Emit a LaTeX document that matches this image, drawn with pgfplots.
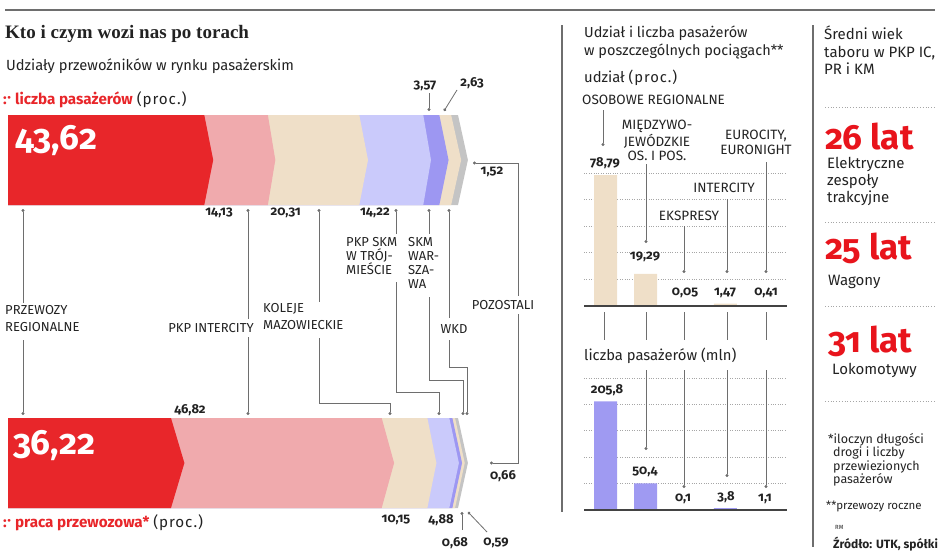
\documentclass[border=0pt]{standalone}
\usepackage{pgfplots}
\pgfplotsset{compat=1.18}
\usetikzlibrary{arrows.meta}
\usepackage{fontspec}
\setmainfont{Fira Sans}[Numbers=OldStyle]
\newfontfamily\titlefont{Liberation Serif}
\definecolor{cred}{HTML}{E8262A}
\definecolor{cpink}{HTML}{F0AAAD}
\definecolor{cbeige}{HTML}{EFDFC8}
\definecolor{clav}{HTML}{CACAFB}
\definecolor{cperi}{HTML}{9D97F2}
\definecolor{cgray}{HTML}{C4C4C4}
\definecolor{ctext}{HTML}{222222}
\definecolor{cline}{HTML}{6E6E6E}
\definecolor{cbar}{HTML}{9F9AF2}
\definecolor{cbig}{HTML}{E8141C}
\newcommand{\fs}[2]{\fontsize{#1bp}{#2bp}\selectfont}
\newcommand{\mk}{{\color{cred}\bfseries :\kern0.6bp\raisebox{0.3ex}{·}}}
\newcommand{\proc}{{\addfontfeature{LetterSpace=6}(proc.)}}
\begin{document}
\begin{tikzpicture}

% ---------- left: chevron bars ----------
\begin{axis}[at={(8bp,-115bp)}, anchor=north west, scale only axis, width=450bp, height=393bp,
  xmin=0, xmax=100, ymin=115, ymax=508, y dir=reverse, axis lines=none, clip=false]
% liczba pasazerow: 43.62, 14.13, 20.31, 14.22, 3.57, 2.63, 1.52 (cumulative ends)
\addplot[fill=cgray, draw=none]  coordinates {(0,115) (100,115) (102.2,160) (100,205) (0,205)} --cycle;
\addplot[fill=cbeige, draw=none] coordinates {(0,115) (98.48,115) (100.7,160) (98.48,205) (0,205)} --cycle;
\addplot[fill=cperi, draw=none]  coordinates {(0,115) (95.85,115) (97.9,160) (95.85,205) (0,205)} --cycle;
\addplot[fill=clav, draw=none]   coordinates {(0,115) (92.28,115) (94.0,160) (92.28,205) (0,205)} --cycle;
\addplot[fill=cbeige, draw=none] coordinates {(0,115) (78.06,115) (80.0,160) (78.06,205) (0,205)} --cycle;
\addplot[fill=cpink, draw=none]  coordinates {(0,115) (57.75,115) (59.4,160) (57.75,205) (0,205)} --cycle;
\addplot[fill=cred, draw=none]   coordinates {(0,115) (43.62,115) (45.6,160) (43.62,205) (0,205)} --cycle;
% praca przewozowa: 36.22, 46.82, 10.15, 4.88, 0.68, 0.59, 0.66 (cumulative ends)
\addplot[fill=cgray, draw=none]  coordinates {(0,418) (100,418) (102.2,463) (100,508) (0,508)} --cycle;
\addplot[fill=cbeige, draw=none] coordinates {(0,418) (99.34,418) (101.5,463) (99.34,508) (0,508)} --cycle;
\addplot[fill=cperi, draw=none]  coordinates {(0,418) (98.75,418) (100.9,463) (98.75,508) (0,508)} --cycle;
\addplot[fill=clav, draw=none]   coordinates {(0,418) (98.07,418) (100.2,463) (98.07,508) (0,508)} --cycle;
\addplot[fill=cbeige, draw=none] coordinates {(0,418) (93.19,418) (95.2,463) (93.19,508) (0,508)} --cycle;
\addplot[fill=cpink, draw=none]  coordinates {(0,418) (83.04,418) (85.8,463) (83.04,508) (0,508)} --cycle;
\addplot[fill=cred, draw=none]   coordinates {(0,418) (36.22,418) (39.2,463) (36.22,508) (0,508)} --cycle;
\end{axis}

% ---------- middle charts ----------
\begin{axis}[at={(584bp,-306bp)}, anchor=south west, scale only axis, width=203bp, height=133bp,
  xmin=-0.54, xmax=4.54, ymin=0, ymax=80, ybar, bar width=23bp, bar shift=0pt,
  axis line style={draw=none}, xtick=\empty, ytick={16,32,48,64,80}, yticklabels={},
  major tick length=0pt, ymajorgrids, grid style={dotted, line width=0.8bp, gray!70}, clip=false]
\addplot[fill=cbeige, draw=none] coordinates {(0,78.79) (1,19.29) (2,0.05) (3,1.47) (4,0.41)};
\draw[line width=2.2bp, draw=ctext!85] (rel axis cs:0,0) -- (rel axis cs:1,0);
\end{axis}

\begin{axis}[at={(584bp,-510bp)}, anchor=south west, scale only axis, width=203bp, height=132bp,
  xmin=-0.54, xmax=4.54, ymin=0, ymax=250, ybar, bar width=23bp, bar shift=0pt,
  axis line style={draw=none}, xtick=\empty, ytick={50,100,150,200,250}, yticklabels={},
  major tick length=0pt, ymajorgrids, grid style={dotted, line width=0.8bp, gray!70}, clip=false]
\addplot[fill=cbar, draw=none] coordinates {(0,205.8) (1,50.4) (2,0.1) (3,3.8) (4,1.1)};
\draw[line width=2.2bp, draw=ctext!85] (rel axis cs:0,0) -- (rel axis cs:1,0);
\end{axis}

\begin{scope}[x=1bp, y=-1bp,
  every node/.style={text=ctext, inner sep=0pt},
  ld/.style={draw=cline, line width=0.8bp},
  dS/.style={ld, {Circle[length=3bp]}-},
  dE/.style={ld, -{Circle[length=3bp]}},
  lab/.style={font=\fs{13}{14}, align=left},
  mlab/.style={font=\fs{13.5}{14.5}, align=center},
  num/.style={font=\bfseries\fs{13}{14}},
  gdot/.style={draw=gray!70, dotted, line width=0.8bp}]
% ---------- header ----------
\draw[line width=2bp, draw=cline] (5,10) -- (935,10);
\node[anchor=base west, font=\titlefont\bfseries\fs{19}{20}] at (5,38) {Kto i czym wozi nas po torach};
\node[anchor=west, font=\fs{14.7}{16}] at (6,66) {Udziały przewoźników w rynku pasażerskim};
\node[anchor=west, font=\fs{15.2}{16}] at (3,100) {\mk\ {\color{cred}\bfseries liczba pasażerów} \proc};
\node[anchor=west, font=\fs{15.2}{16}] at (3,523) {\mk\ {\color{cred}\bfseries praca przewozowa*} \proc};

\node[anchor=west, font=\bfseries\fs{35}{36}, text=white] at (15,141) {43,62};
\node[anchor=west, font=\bfseries\fs{35}{36}, text=white] at (13,446) {36,22};

% value labels top bar
\node[num, anchor=east] at (233,213) {14,13};
\node[num, anchor=east] at (301,213) {20,31};
\node[num, anchor=east] at (390,213) {14,22};
\node[num] at (425,86) {3,57};
\node[num] at (472,83) {2,63};
\node[num] at (492,172) {1,52};
\draw[dE] (429,93) -- (429,111);
\draw[dE] (457,90) -- (444,111);
% value labels bottom bar
\node[num] at (190,410) {46,82};
\node[num] at (396,520) {10,15};
\node[num] at (441,520) {4,88};
\node[num] at (455,543) {0,68};
\node[num] at (496,543) {0,59};
\node[num] at (503,476) {0,66};
\draw[dS] (462,512) -- (462,530);
\draw[dS] (468,512) -- (487,532);

% leader lines
\draw[dS] (23,209) -- (23,303);   \draw[dE] (23,340) -- (23,415);
\draw[dS] (248,209) -- (248,319); \draw[dE] (248,337) -- (248,415);
\draw[dS] (319,209) -- (319,302); \draw[dE] (319,338) -- (319,403) -- (390,403) -- (390,415);
\draw[dS] (396,209) -- (396,234); \draw[dE] (396,282) -- (396,392) -- (439,392) -- (439,415);
\draw[dS] (429,209) -- (429,234); \draw[dE] (429,297) -- (429,380) -- (463,380) -- (463,415);
\draw[dS] (449,209) -- (449,318); \draw[dE] (449,340) -- (449,367) -- (467,367) -- (467,415);
\draw[dS] (473,163) -- (518,163) -- (518,296); \draw[dE] (518,314) -- (518,463) -- (490,463);

\node[lab, anchor=north west, font=\fs{13}{17}] at (5,305) {PRZEWOZY\\REGIONALNE};
\node[lab] at (211,328) {PKP INTERCITY};
\node[lab, anchor=north west, font=\fs{13}{17}] at (263,303) {KOLEJE\\MAZOWIECKIE};
\node[lab, anchor=north west] at (346,237) {PKP SKM\\W TRÓJ-\\MIEŚCIE};
\node[lab, anchor=north west] at (408,237) {SKM\\WAR-\\SZA-\\WA};
\node[lab] at (454,329) {WKD};
\node[lab] at (503,305) {POZOSTALI};

% ---------- separators ----------
\draw[line width=1.2bp, draw=cline] (562,25) -- (562,512);
\draw[line width=1.2bp, draw=cline] (813,25) -- (813,547);

% ---------- middle panel ----------
\node[anchor=north west, align=left, font=\fs{14.5}{18}] at (584,26) {Udział i liczba pasażerów\\w poszczególnych pociągach**};
\node[anchor=west, font=\fs{14.8}{16}] at (584,78) {udział \proc};

\node[mlab, anchor=west] at (582,100) {OSOBOWE REGIONALNE};
\node[mlab, anchor=north] at (657,120) {MIĘDZYWO-\\JEWÓDZKIE\\OS. I POS.};
\node[mlab, anchor=north] at (756,130) {EUROCITY,\\EURONIGHT};
\node[mlab] at (724,188) {INTERCITY};
\node[mlab] at (689,216) {EKSPRESY};
\draw[dE] (603,110) -- (603,146);
\draw[dE] (646,164) -- (646,243);
\draw[dE] (766,162) -- (766,273);
\draw[dE] (727,199) -- (727,273);
\draw[dE] (684,226) -- (684,273);
\foreach \xx in {604,646,684,727,766} {\draw[ld] (\xx,312) -- (\xx,340);}
\node[num] at (605,163) {78,79};
\node[num] at (645,257) {19,29};
\node[num] at (685,293) {0,05};
\node[num] at (725,293) {1,47};
\node[num] at (766,293) {0,41};

\node[anchor=west, font=\fs{14.8}{16}] at (584,356) {liczba pasażerów (mln)};
\draw[dE] (646,370) -- (646,450);
\draw[dE] (684,370) -- (684,488);
\draw[dE] (727,370) -- (727,477);
\draw[dE] (766,370) -- (766,488);
\node[num] at (607,390) {205,8};
\node[num] at (645,472) {50,4};
\node[num] at (683,499) {0,1};
\node[num] at (726,497) {3,8};
\node[num] at (765,499) {1,1};

% ---------- right panel ----------
\node[anchor=north west, align=left, font=\fs{15}{17.5}] at (824,26) {Średni wiek\\taboru w PKP IC,\\PR i KM};
\draw[gdot] (825,107) -- (935,107);
\node[anchor=base west, font=\bfseries\fs{35}{36}, text=cbig] at (825,149) {26 lat};
\node[anchor=north west, align=left, font=\fs{15}{17}] at (827,157) {Elektryczne\\zespoły\\trakcyjne};
\draw[gdot] (825,222) -- (935,222);
\node[anchor=base west, font=\bfseries\fs{35}{36}, text=cbig] at (825,259) {25 lat};
\node[anchor=west, font=\fs{15}{16}] at (828,282) {Wagony};
\draw[gdot] (825,306) -- (935,306);
\node[anchor=base west, font=\bfseries\fs{35}{36}, text=cbig] at (828,352) {31 lat};
\node[anchor=west, font=\fs{15}{16}] at (832,370) {Lokomotywy};
\draw[gdot] (825,401) -- (935,401);
\node[anchor=north west, align=left, font=\fs{12.5}{12.3}] at (828,433) {*iloczyn długości\\\hspace*{5bp}drogi i liczby\\\hspace*{5bp}przewiezionych\\\hspace*{5bp}pasażerów};
\node[anchor=west, font=\fs{11.5}{13}] at (826,506) {**przewozy roczne};
\node[anchor=west, font=\fs{6}{7}] at (835,527) {RM};
\node[anchor=west, font=\bfseries\fs{12}{14}] at (833,544) {Źródło: UTK, spółki};
\end{scope}
\pgfresetboundingbox
\path[use as bounding box] (0bp,0bp) rectangle (944bp,-552bp);
\end{tikzpicture}
\end{document}
